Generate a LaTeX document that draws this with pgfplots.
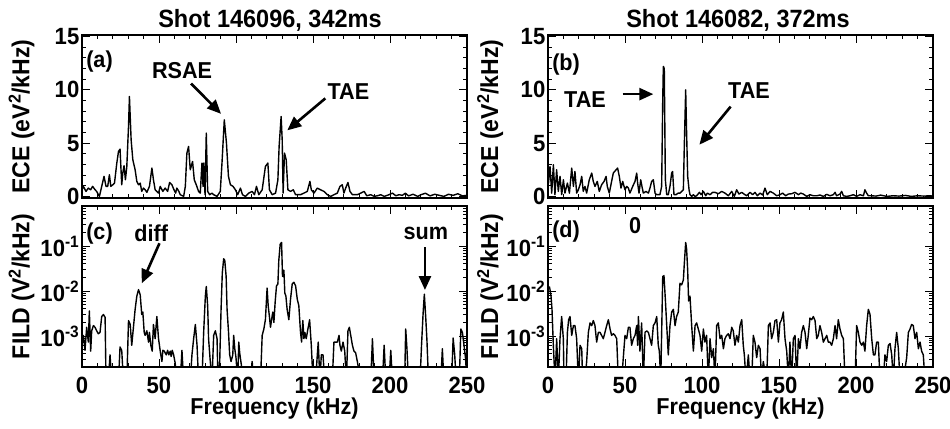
\documentclass[border=0pt]{standalone}
\usepackage{fontspec}
\setmainfont{Liberation Sans}[FakeStretch=0.94]
\usepackage{pgfplots}
\pgfplotsset{compat=1.18}
\usetikzlibrary{arrows.meta}

\newcommand{\tck}{\fontsize{23.5bp}{26bp}\selectfont\bfseries}
\newcommand{\lbl}{\fontsize{23bp}{26bp}\selectfont\bfseries}
\newcommand{\ttl}{\fontsize{25bp}{28bp}\selectfont\bfseries}
\newcommand{\ylbl}{\fontsize{24.5bp}{28bp}\selectfont\bfseries}

\tikzset{
  note/.style={font=\lbl},
  pointer/.style={-{Triangle[length=14bp,width=12bp]}, line width=2.6bp},
}

\pgfplotsset{
  spec/.style={
    scale only axis, width=385bp,
    xmin=0, xmax=250, xtick={0,50,...,250}, minor x tick num=4,
    tick align=inside, major tick length=8bp, minor tick length=4bp,
    every tick/.style={black, line width=0.9bp},
    axis line style={line width=1.5bp},
    tick label style={font=\tck},
    yticklabel style={inner sep=2.5bp},
    xlabel style={font=\lbl},
    ylabel style={font=\ylbl},
    /pgf/number format/assume math mode=true,
    every x tick label/.append style={anchor=base, yshift=-26bp},
  },
  ece/.style={spec, height=163bp, ymin=-0.15, ymax=15.15,
    ytick={0,5,10,15}, minor y tick num=4, xticklabels={},
    ylabel={ECE (eV\textsuperscript{2}/kHz)}},
  fild/.style={spec, height=161bp, ymin=2.04e-4, ymax=0.776,
    ytick={1e-3,1e-2,1e-1},
    yticklabels={{10\textsuperscript{-3}},{10\textsuperscript{-2}},{10\textsuperscript{-1}}},
    minor ytick={3e-4,4e-4,5e-4,6e-4,7e-4,8e-4,9e-4,
                 2e-3,3e-3,4e-3,5e-3,6e-3,7e-3,8e-3,9e-3,
                 2e-2,3e-2,4e-2,5e-2,6e-2,7e-2,8e-2,9e-2,
                 2e-1,3e-1,4e-1,5e-1,6e-1,7e-1},
    xlabel={Frequency (kHz)},
    xlabel style={at={(axis description cs:0.5,-0.298)}, anchor=base},
    ylabel={FILD (V\textsuperscript{2}/kHz)}},
  spec line/.style={black, line width=1.4bp, mark=none, line join=round},
}

\begin{document}
\begin{tikzpicture}
\path[use as bounding box] (0,0) rectangle (950bp,-429bp);

% column titles
\node[font=\ttl, anchor=base] at (270bp,-27bp) {Shot 146096, 342ms};
\node[font=\ttl, anchor=base] at (738bp,-27bp) {Shot 146082, 372ms};

% (a) ECE spectrum, shot 146096
\begin{axis}[ece, at={(82bp,-35bp)}, anchor=north west,
  ylabel style={at={(axis description cs:-0.157,0.5)}, anchor=center}]
\addplot[spec line] table[row sep=\\] {
f v\\ 0 0.6\\ 0.9 0.94\\ 2.6 0.47\\ 4.1 0.78\\ 5.6 0.62\\ 6.9 0.94\\ 8.5 0.62\\ 9.5 0.47\\
11.3 0.0\\ 12.8 0.94\\ 14.3 1.88\\ 15.6 0.94\\ 16.7 0.94\\ 17.8 2.03\\ 18.7 0.94\\ 20.0 1.09\\
21.1 1.25\\ 22.6 3.13\\ 23.7 4.22\\ 24.7 4.44\\ 25.8 1.09\\ 26.5 2.19\\ 27.3 2.88\\ 28.2 1.56\\
29.1 2.81\\ 30.2 6.56\\ 30.8 9.38\\ 31.9 5.31\\ 33.0 3.44\\ 34.5 2.50\\ 35.6 1.41\\ 36.7 1.09\\
37.8 1.25\\ 38.8 0.47\\ 39.9 0.78\\ 41.0 0.62\\ 42.1 0.38\\ 43.8 0.94\\ 45.4 2.66\\ 46.4 1.56\\
47.5 0.62\\ 48.6 0.47\\ 49.7 0.31\\ 50.8 0.94\\ 52.5 0.47\\ 54.0 0.78\\ 55.6 0.47\\ 56.9 1.31\\
58.4 1.09\\ 59.5 0.69\\ 60.8 0.31\\ 61.6 0.78\\ 62.9 0.47\\ 63.8 0.16\\ 66.0 0.0\\ 67.1 0.94\\
68.1 4.06\\ 69.2 4.69\\ 70.3 2.50\\ 71.8 3.28\\ 72.9 1.56\\ 74.2 1.09\\ 75.7 0.47\\ 76.8 0.31\\
77.9 3.13\\ 78.6 0.94\\ 79.0 3.13\\ 79.9 0.16\\ 80.7 5.94\\ 81.6 0.47\\ 82.9 0.16\\ 84.4 0.31\\
85.5 0.16\\ 87.7 0.0\\ 89.8 0.47\\ 90.9 3.13\\ 92.4 7.19\\ 93.8 5.0\\ 95.1 1.88\\ 96.4 1.09\\
98.1 0.94\\ 99.6 0.62\\ 101.1 0.16\\ 102.9 0.78\\ 104.2 0.16\\ 106.1 0.0\\ 108.3 0.31\\ 110.5 0.47\\
112.0 0.16\\ 113.3 0.94\\ 114.8 0.16\\ 117.0 0.62\\ 119.1 2.81\\ 120.7 3.13\\ 121.7 0.62\\ 123.5 0.16\\
125.7 0.31\\ 127.2 1.56\\ 128.0 4.69\\ 129.3 7.5\\ 130.0 5.31\\ 130.6 0.31\\ 131.5 4.06\\ 132.6 3.44\\
133.7 0.62\\ 135.4 0.47\\ 137.2 0.62\\ 138.7 0.16\\ 141.9 0.16\\ 144.1 0.31\\ 146.3 0.47\\ 148.0 1.41\\
148.9 0.62\\ 150.6 0.31\\ 152.8 0.78\\ 154.9 0.62\\ 157.1 0.47\\ 159.3 0.16\\ 161.5 0.0\\ 163.6 0.16\\
165.8 0.31\\ 167.5 0.94\\ 169.0 1.09\\ 170.1 0.31\\ 171.2 0.78\\ 172.7 1.31\\ 174.0 0.47\\ 175.6 0.16\\
177.7 0.16\\ 178.8 0.16\\ 181.0 0.31\\ 183.2 0.47\\ 184.9 0.06\\ 187.5 0.16\\ 189.7 0.0\\ 191.8 0.06\\
194.0 0.16\\ 196.2 0.0\\ 199.4 0.16\\ 201.6 0.31\\ 203.8 0.06\\ 205.9 0.16\\ 208 0.1\\ 210 0.3\\
212 0.05\\ 215 0.2\\ 218 0.0\\ 220 0.15\\ 223 0.3\\ 226 0.05\\ 229 0.2\\ 232 0.1\\ 235 0.0\\
238 0.2\\ 241 0.1\\ 244 0.25\\ 247 0.05\\ 250 0.1\\
};
\node[note, anchor=west] at (rel axis cs:0.002,0.84) {(a)};
\node[note] at (axis cs:65,11.8) {RSAE};
\draw[pointer] (axis cs:70.8,10.6) -- (axis cs:90.3,7.75);
\node[note] at (axis cs:173,9.8) {TAE};
\draw[pointer] (axis cs:158,9.2) -- (axis cs:133.3,6.2);
\end{axis}

% (b) ECE spectrum, shot 146082
\begin{axis}[ece, at={(548bp,-35bp)}, anchor=north west,
  ylabel style={at={(axis description cs:-0.150,0.5)}, anchor=center}]
\addplot[spec line] table[row sep=\\] {
f v\\ 0.3 1.2\\ 1.3 2.81\\ 2.4 0.31\\ 3.5 2.97\\ 4.5 0.16\\ 5.6 2.50\\ 6.7 0.47\\ 7.8 1.88\\
8.9 0.16\\ 10.0 1.56\\ 11.0 0.31\\ 12.6 1.25\\ 13.9 0.31\\ 15.4 2.66\\ 16.5 0.94\\ 17.5 2.34\\
18.6 0.31\\ 19.7 0.62\\ 20.8 1.09\\ 21.9 1.88\\ 22.9 0.47\\ 24.0 0.94\\ 25.1 0.31\\ 26.8 1.56\\
28.4 2.19\\ 29.4 1.41\\ 30.5 0.94\\ 32.0 1.41\\ 33.3 0.47\\ 34.8 1.09\\ 36.4 1.41\\ 37.7 1.88\\
38.5 0.94\\ 39.8 0.31\\ 41.3 1.41\\ 42.4 2.19\\ 44.2 2.50\\ 45.2 2.66\\ 46.3 1.88\\ 47.4 0.78\\
48.5 1.41\\ 50.0 0.62\\ 51.1 0.94\\ 52.2 0.78\\ 53.2 0.31\\ 55.0 0.94\\ 56.5 1.41\\ 57.6 2.19\\
58.2 1.25\\ 59.1 0.31\\ 60.2 1.56\\ 61.0 0.94\\ 61.9 0.31\\ 63.6 0.47\\ 65.2 0.31\\ 66.2 0.78\\
67.3 1.41\\ 68.4 1.56\\ 69.5 0.31\\ 70.6 0.16\\ 72.7 0.16\\ 73.8 0.94\\ 74.5 9.06\\ 74.9 12.2\\
75.5 12.0\\ 76.2 1.56\\ 77.1 0.16\\ 78.1 0.16\\ 79.2 0.94\\ 80.3 2.19\\ 80.9 2.34\\ 81.8 0.16\\
83.1 0.16\\ 84.6 0.31\\ 85.7 0.31\\ 86.8 0.47\\ 87.9 0.62\\ 88.5 4.69\\ 89.4 10.0\\ 90.0 5.94\\
90.7 1.88\\ 91.6 0.62\\ 92.2 0.16\\ 93.3 0.0\\ 94.4 0.16\\ 95.5 0.0\\ 96.5 0.06\\ 98.3 0.38\\
99.4 0.16\\ 100.9 0.47\\ 102.4 0.06\\ 103.5 0.31\\ 105.2 0.16\\ 106.9 0.38\\ 108.4 0.38\\ 110.6 0.25\\
112.8 0.47\\ 114.9 0.31\\ 117.1 0.06\\ 119.3 0.47\\ 121.0 0.0\\ 122.5 0.62\\ 124.0 0.22\\ 125.8 0.38\\
127.3 0.22\\ 129.0 0.06\\ 131.2 0.38\\ 132.9 0.16\\ 134.4 0.38\\ 135.9 0.06\\ 137.7 0.31\\ 139.4 0.13\\
140.9 0.78\\ 142.4 0.16\\ 144.2 0.47\\ 146.3 0.31\\ 148.5 0.06\\ 150.6 0.16\\ 152.4 0.31\\ 154.3 0.06\\
156.1 0.22\\ 158.2 0.25\\ 160.4 0.38\\ 162.6 0.16\\ 164.1 0.31\\ 165.8 0.22\\ 168.0 0.0\\ 170.1 0.16\\
172.3 0.06\\ 174.5 0.06\\ 176.6 0.13\\ 178.8 0.0\\ 181.0 0.19\\ 183.1 0.06\\ 185.3 0.16\\ 186.4 0.38\\
187.4 0.06\\ 189.6 0.22\\ 190.7 0.47\\ 191.8 0.06\\ 193.9 0.0\\ 196.1 0.06\\ 198.3 0.16\\ 200.4 0.0\\
202.6 0.16\\ 204.8 0.06\\ 205.8 0.62\\ 206.9 0.31\\ 208.0 0.06\\ 210 0.06\\ 213 0.03\\ 216 0.12\\
220 0.0\\ 224 0.06\\ 228 0.03\\ 232 0.09\\ 236 0.0\\ 240 0.06\\ 244 0.03\\ 248 0.06\\ 250 0.03\\
};
\node[note, anchor=west] at (rel axis cs:0.002,0.82) {(b)};
\node[note] at (axis cs:24,9.06) {TAE};
\draw[pointer] (axis cs:48.5,9.6) -- (axis cs:68.4,9.6);
\node[note] at (axis cs:130.5,9.9) {TAE};
\draw[pointer] (axis cs:118.6,8.43) -- (axis cs:98.3,4.85);
\end{axis}

% (c) FILD spectrum, shot 146096
\begin{semilogyaxis}[fild, at={(82bp,-206bp)}, anchor=north west,
  ylabel style={at={(axis description cs:-0.157,0.5)}, anchor=center}]
\addplot[spec line] table[row sep=\\] {
f v\\ 0 6.5e-4\\ 0.87 1.03e-3\\ 1.95 4.8e-4\\ 3.04 1.56e-3\\ 4.12 7.3e-4\\ 4.77 3.6e-3\\ 5.64 4.6e-4\\
6.29 1.3e-3\\ 7.38 1.7e-3\\ 8.46 1.56e-3\\ 9.55 1.3e-3\\ 10.6 1.12e-3\\ 11.7 1.2e-3\\ 12.8 2.7e-3\\
13.9 3.0e-3\\ 15.0 2.6e-3\\ 15.6 1e-4\\ 17.1 1e-4\\ 18.2 3.8e-4\\ 19.3 1e-4\\ 23.7 1e-4\\
24.7 5.7e-4\\ 25.8 4.8e-4\\ 26.9 1e-4\\ 29.1 1e-4\\ 30.2 2.2e-3\\ 31.3 1.8e-3\\ 32.3 6.2e-4\\
33.4 1.56e-3\\ 34.5 3.9e-3\\ 35.6 7.7e-3\\ 36.7 1.07e-2\\ 37.8 8.2e-3\\ 38.8 3.0e-3\\ 39.5 3.4e-3\\
40.4 1.2e-3\\ 41.0 1.03e-3\\ 42.1 1.3e-3\\ 43.2 7.3e-4\\ 43.8 1.2e-3\\ 44.7 6.2e-4\\ 45.6 4.6e-4\\
46.4 1.8e-3\\ 47.5 8.7e-4\\ 48.6 2.7e-3\\ 49.7 8.7e-4\\ 50.8 4.6e-4\\ 51.9 2.7e-4\\ 52.5 4.8e-4\\
53.4 4.6e-4\\ 54.7 3.8e-4\\ 55.6 4.8e-4\\ 56.4 3.8e-4\\ 57.3 4.6e-4\\ 57.9 3.5e-4\\ 58.6 4.8e-4\\
59.5 3.8e-4\\ 60.5 2.5e-4\\ 61.6 1e-4\\ 63.8 1e-4\\ 64.9 4.8e-4\\ 66.0 1e-4\\ 70.3 1e-4\\
71.4 3.8e-4\\ 72.5 8.7e-4\\ 73.6 1.8e-3\\ 74.7 6.2e-4\\ 75.7 1e-4\\ 77.9 1e-4\\ 79.0 1.2e-3\\
80.1 7.7e-3\\ 80.7 1.26e-2\\ 81.6 4.7e-3\\ 82.2 8.7e-4\\ 83.3 2.7e-4\\ 84.4 1e-4\\ 85.5 1.03e-3\\
86.6 1.3e-3\\ 87.7 8.7e-4\\ 88.3 1e-4\\ 89.4 2.5e-4\\ 90.3 3.9e-3\\ 91.1 2.5e-2\\ 92.0 5.2e-2\\
92.7 4.8e-2\\ 93.6 2.1e-2\\ 94.2 3.9e-3\\ 95.1 1.3e-3\\ 95.9 3.8e-4\\ 96.8 2.7e-4\\ 97.9 3.8e-4\\
98.5 1.03e-3\\ 99.2 5.2e-4\\ 100.0 3.3e-4\\ 101.1 1e-4\\ 101.8 7.3e-4\\ 102.4 4.2e-4\\ 103.3 2.5e-4\\
105.0 1e-4\\ 109.4 1e-4\\ 110.5 2.7e-4\\ 111.5 1e-4\\ 115.9 1e-4\\ 117.0 1.03e-3\\ 118.1 1.43e-3\\
119.1 2.3e-3\\ 120.2 1.16e-2\\ 120.9 4.7e-3\\ 121.7 2.7e-3\\ 122.4 1.56e-3\\ 123.0 2.2e-3\\ 123.9 3.4e-3\\
124.6 2.0e-3\\ 125.4 5.5e-3\\ 126.3 1.3e-2\\ 127.2 1.43e-2\\ 127.8 4.8e-2\\ 128.7 0.11\\ 129.6 0.12\\
130.2 2.1e-2\\ 131.1 2.9e-2\\ 131.7 9.0e-3\\ 132.4 7.7e-3\\ 133.2 3.9e-3\\ 134.3 2.3e-3\\ 135.4 6.5e-3\\
136.5 1.43e-2\\ 137.6 1.56e-2\\ 138.7 1.3e-2\\ 139.8 6.5e-3\\ 140.8 4.7e-3\\ 141.9 1.2e-3\\ 142.6 7.3e-4\\
143.4 2.2e-3\\ 144.1 8.7e-4\\ 144.7 1.2e-3\\ 145.6 8.7e-4\\ 146.7 1.43e-3\\ 147.8 2.3e-3\\ 148.9 6.2e-4\\
150.0 1e-4\\ 151.7 1e-4\\ 152.8 3.8e-4\\ 153.4 7.3e-4\\ 154.5 1e-4\\ 155.4 3.8e-4\\ 156.5 3.8e-4\\
157.6 1e-4\\ 162.5 1e-4\\ 163.6 7.3e-4\\ 164.7 7.3e-4\\ 165.8 7.3e-4\\ 166.9 1.03e-3\\ 167.5 6.2e-4\\
168.4 4.6e-4\\ 169.5 7.3e-4\\ 170.6 4.6e-4\\ 171.7 1e-4\\ 172.7 1.3e-3\\ 173.6 1.56e-3\\ 174.5 1.03e-3\\
175.6 6.2e-4\\ 176.6 4.6e-4\\ 177.7 4.2e-4\\ 178.8 2.7e-4\\ 181.0 1e-4\\ 187.5 1e-4\\ 188.6 8.7e-4\\
189.7 1e-4\\ 195.1 1e-4\\ 196.2 6.2e-4\\ 197.3 1e-4\\ 199.4 1e-4\\ 200.5 4.8e-4\\ 201.6 1e-4\\
207.0 1e-4\\ 209.5 1e-4\\ 210.2 1.43e-3\\ 211.0 5.2e-4\\ 212.0 1e-4\\ 219.5 1e-4\\ 220.5 6.5e-4\\
221.5 3.2e-3\\ 222.3 8.5e-3\\ 223.2 2.6e-3\\ 224.0 7.8e-4\\ 225.0 1e-4\\ 233 1e-4\\ 234 5.2e-4\\
235 1e-4\\ 240 1e-4\\ 241 9e-4\\ 242 3.9e-4\\ 243 1e-4\\ 245 1e-4\\ 246 1.43e-3\\ 247 1.2e-3\\
248 6.5e-4\\ 249 3.3e-4\\ 250 1e-4\\
};
\node[note, anchor=west] at (rel axis cs:0.002,0.826) {(c)};
\node[note] at (axis cs:45,0.195) {diff};
\draw[pointer] (axis cs:50.3,0.115) -- (axis cs:38.8,0.0148);
\node[note] at (axis cs:223.3,0.195) {sum};
\draw[pointer] (axis cs:222.7,0.095) -- (axis cs:222.7,0.0105);
\end{semilogyaxis}

% (d) FILD spectrum, shot 146082
\begin{semilogyaxis}[fild, at={(548bp,-206bp)}, anchor=north west,
  ylabel style={at={(axis description cs:-0.150,0.5)}, anchor=center}]
\addplot[spec line] table[row sep=\\] {
f v\\ 0.87 1.26e-2\\ 1.3 1.07e-2\\ 1.95 7.7e-3\\ 2.6 3.9e-3\\ 3.46 6.2e-4\\ 4.55 1e-4\\ 5.63 8.7e-4\\
6.71 1e-4\\ 7.79 8.7e-4\\ 8.87 2.7e-3\\ 9.96 8.7e-4\\ 10.4 1e-4\\ 11.7 1e-4\\ 12.6 1.2e-3\\
13.4 2.3e-3\\ 14.3 2.7e-3\\ 15.4 1.03e-3\\ 16.5 1.7e-3\\ 17.5 1.7e-3\\ 18.6 8.7e-4\\ 19.7 1e-4\\
20.8 6.2e-4\\ 21.9 5.2e-4\\ 22.5 1e-4\\ 24.0 1e-4\\ 25.1 2.7e-4\\ 26.2 1.2e-3\\ 27.3 1.95e-3\\
28.4 1.7e-3\\ 29.4 2.2e-3\\ 30.5 1.7e-3\\ 31.6 7.3e-4\\ 32.7 1.2e-3\\ 33.8 1.2e-3\\ 34.8 1.03e-3\\
35.9 8.7e-4\\ 37.0 1.2e-3\\ 38.1 1.7e-3\\ 39.2 2.3e-3\\ 40.3 1.43e-3\\ 41.3 1.03e-3\\ 42.4 1.12e-3\\
43.5 1.03e-3\\ 44.6 8.7e-4\\ 45.7 1e-4\\ 47.8 1e-4\\ 48.9 3.3e-4\\ 50.0 1.03e-3\\ 51.1 8.7e-4\\
52.2 1.56e-3\\ 53.2 1.56e-3\\ 54.3 6.2e-4\\ 55.4 8.7e-4\\ 56.5 1.03e-3\\ 57.6 1.7e-3\\ 58.2 6.2e-4\\
58.7 2.7e-3\\ 59.7 4.6e-4\\ 60.8 1.95e-3\\ 61.9 1e-4\\ 63.0 1.2e-3\\ 64.1 1.3e-3\\ 65.2 1.2e-3\\
66.2 8.7e-4\\ 67.3 6.2e-4\\ 68.4 1.7e-3\\ 69.5 1.95e-3\\ 70.6 2.7e-3\\ 71.6 6.2e-4\\ 72.3 4.6e-4\\
73.2 1e-4\\ 74.5 2.1e-2\\ 75.3 2.2e-2\\ 76.2 6.5e-3\\ 77.1 1.7e-3\\ 78.1 3.8e-4\\ 79.2 1.7e-3\\
80.3 3.4e-3\\ 81.4 3.9e-3\\ 82.5 1.7e-3\\ 83.5 2.7e-3\\ 84.6 3.4e-3\\ 85.7 1.48e-2\\ 86.8 1.37e-2\\
87.9 1.76e-2\\ 88.5 4.0e-2\\ 89.4 0.12\\ 90.0 8.6e-2\\ 90.7 2.9e-2\\ 91.3 6.0e-3\\ 92.2 7.7e-3\\
93.3 1.7e-3\\ 94.4 4.6e-4\\ 95.5 1.7e-3\\ 96.5 1.95e-3\\ 97.6 1.43e-3\\ 98.7 1.03e-3\\ 99.8 4.6e-4\\
100.9 1.43e-3\\ 101.9 7.3e-4\\ 103.0 1.03e-3\\ 104.1 1e-4\\ 105.2 8.7e-4\\ 106.3 3.3e-4\\ 107.4 5.2e-4\\
108.4 1e-4\\ 109.5 1.7e-3\\ 110.6 1.95e-3\\ 111.7 8.7e-4\\ 112.8 1.03e-3\\ 113.9 5.2e-4\\ 114.9 8.7e-4\\
116.0 1.03e-3\\ 117.1 1.12e-3\\ 118.2 8.7e-4\\ 119.3 1.56e-3\\ 120.3 1.3e-3\\ 121.4 6.2e-4\\ 122.5 1.03e-3\\
123.6 7.3e-4\\ 124.7 1.7e-3\\ 125.8 2.3e-3\\ 126.8 6.2e-4\\ 127.5 3.8e-4\\ 128.6 1e-4\\ 130.1 3.8e-4\\
131.2 1e-4\\ 132.3 1e-4\\ 133.3 1.03e-3\\ 134.4 7.3e-4\\ 135.5 3.3e-4\\ 136.6 6.2e-4\\ 137.7 5.2e-4\\
138.7 1e-4\\ 139.8 2.7e-4\\ 142.0 1e-4\\ 143.1 1.7e-3\\ 144.2 1.95e-3\\ 145.2 8.7e-4\\ 146.3 1.2e-3\\
147.4 2.2e-3\\ 148.5 2.3e-3\\ 149.6 7.3e-4\\ 150.6 1.95e-3\\ 151.7 2.3e-3\\ 152.8 3.4e-3\\ 153.9 8.7e-4\\
155.0 4.6e-4\\ 156.1 1e-4\\ 157.1 7.3e-4\\ 158.2 1e-4\\ 159.3 8.7e-4\\ 160.4 1.03e-3\\ 161.5 1e-4\\
162.6 8.7e-4\\ 163.6 5.2e-4\\ 164.7 1.2e-3\\ 165.8 1.7e-3\\ 166.9 1.2e-3\\ 168.0 5.2e-4\\ 169.0 1.03e-3\\
170.1 2.5e-3\\ 171.2 2.3e-3\\ 172.3 2.7e-3\\ 173.4 2.2e-3\\ 174.5 8.7e-4\\ 175.5 1.03e-3\\ 176.6 1.7e-3\\
177.7 1.2e-3\\ 178.8 7.3e-4\\ 179.9 8.7e-4\\ 181.0 1.03e-3\\ 182.0 7.3e-4\\ 183.1 7.3e-4\\ 184.2 6.2e-4\\
185.3 8.7e-4\\ 186.4 1.7e-3\\ 187.4 8.7e-4\\ 188.5 2.3e-3\\ 189.6 1.43e-3\\ 190.7 1.03e-3\\ 191.8 8.7e-4\\
192.9 1e-4\\ 199.4 1e-4\\ 200.4 1.7e-3\\ 201.5 1.2e-3\\ 202.6 7.3e-4\\ 203.7 6.2e-4\\ 204.8 7.3e-4\\
205.8 4.6e-4\\ 206.9 1.7e-3\\ 208.0 3.9e-3\\ 209.1 3.0e-3\\ 210.2 8.7e-4\\ 211.3 3.8e-4\\ 212.3 3.8e-4\\
213.4 7.3e-4\\ 214.5 7.3e-4\\ 215.6 1e-4\\ 217.7 1e-4\\ 218.8 3.8e-4\\ 219.9 2.7e-4\\ 221.0 6.2e-4\\
222.1 6.8e-4\\ 223.2 3.8e-4\\ 224.2 1e-4\\ 225.3 5.2e-4\\ 226.4 1.2e-3\\ 227.5 5.2e-4\\ 228.6 1e-4\\
230.7 1e-4\\ 232.9 3.3e-4\\ 234.0 1.2e-3\\ 235.1 1.43e-3\\ 236.1 1.8e-3\\ 237.2 1.7e-3\\ 238.3 8.7e-4\\
239.4 1.2e-3\\ 240.5 5.2e-4\\ 241.6 7.3e-4\\ 242.6 4.6e-4\\ 243.7 3.8e-4\\ 244.8 1e-4\\ 247.0 1e-4\\
249.1 1e-4\\
};
\node[note, anchor=west] at (rel axis cs:0.002,0.84) {(d)};
\node[note] at (axis cs:56.5,0.29) {0};
\end{semilogyaxis}
\end{tikzpicture}
\end{document}
